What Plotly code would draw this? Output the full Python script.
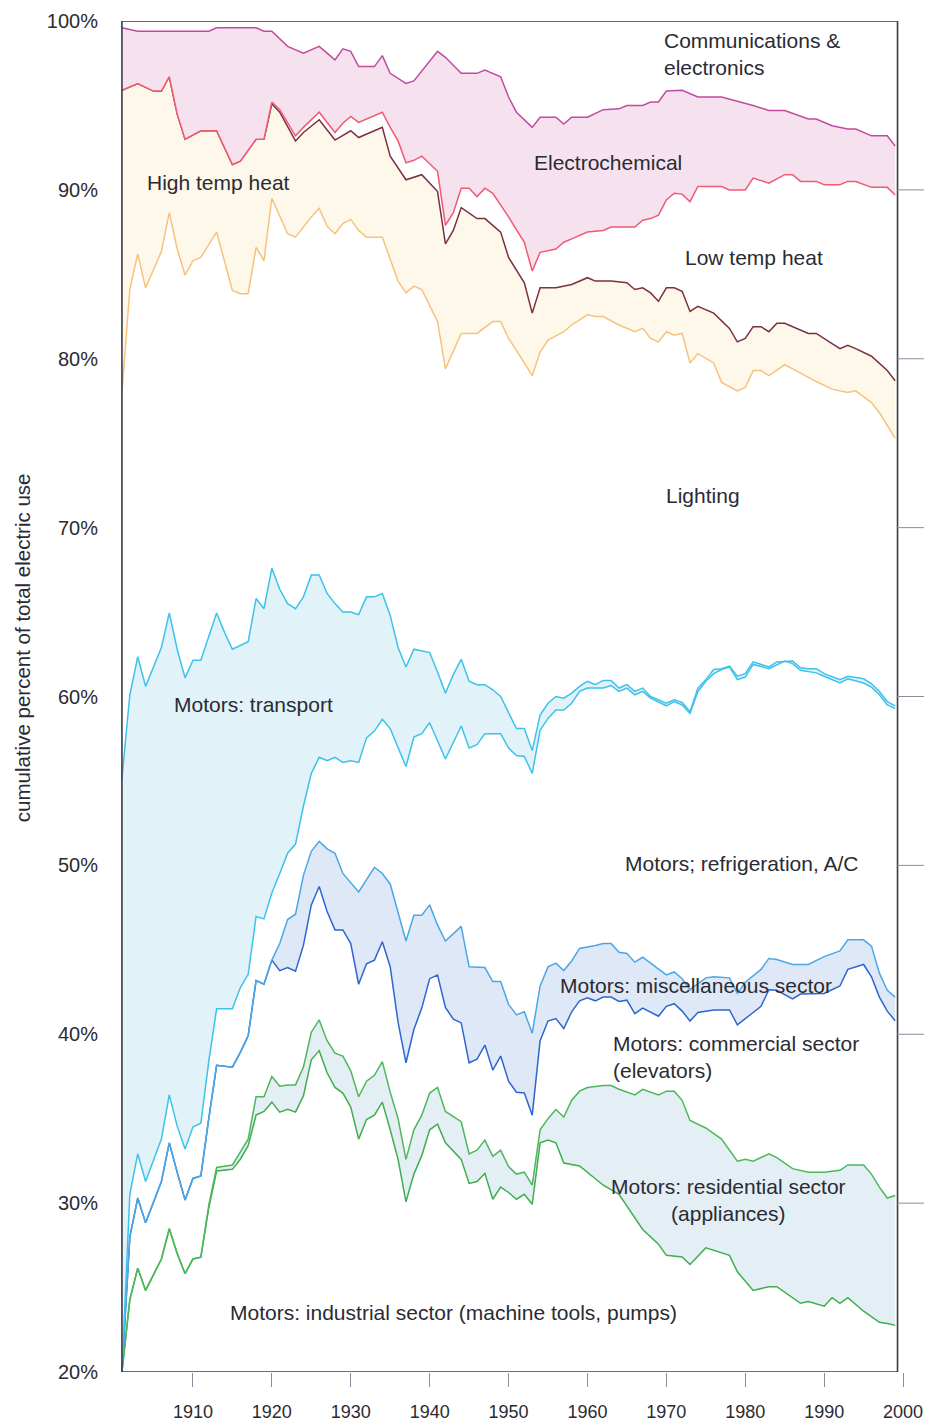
import plotly.graph_objects as go

# cumulative shares (percent of total electric use)
industrial_years = [1901, 1902, 1903, 1904, 1906, 1907, 1908, 1909, 1910, 1911, 1912, 1913, 1915, 1916, 1917,
                    1918, 1919, 1920, 1921, 1922, 1923, 1924, 1925, 1926, 1927, 1928, 1929, 1930, 1931, 1932,
                    1933, 1934, 1935, 1936, 1937, 1938, 1939, 1940, 1941, 1942, 1944, 1945, 1946, 1947, 1948,
                    1949, 1950, 1951, 1952, 1953, 1954, 1955, 1956, 1957, 1959, 1960, 1962, 1964, 1966, 1967,
                    1969, 1970, 1972, 1973, 1975, 1978, 1979, 1981, 1983, 1984, 1987, 1988, 1990, 1991, 1992,
                    1993, 1995, 1997, 1998, 1999]
industrial_top = [20.0, 24.29, 26.15, 24.83, 26.69, 28.48, 27.02, 25.82, 26.69, 26.8, 29.7, 31.9, 32.0, 32.6, 33.4,
                  35.21, 35.43, 35.98, 35.39, 35.55, 35.39, 36.35, 38.49, 39.03, 37.72, 36.85, 36.52, 35.69, 33.79, 34.95,
                  35.21, 35.98, 34.34, 32.59, 30.08, 31.72, 32.81, 34.34, 34.67, 33.57, 32.59, 31.17, 31.28, 31.76, 30.23,
                  30.95, 30.63, 30.23, 30.52, 29.93, 33.57, 33.73, 33.57, 32.37, 32.2, 31.83, 31.06, 30.52, 29.1, 28.44,
                  27.57, 26.91, 26.81, 26.37, 27.35, 26.91, 25.93, 24.83, 25.05, 25.05, 24.07, 24.18, 23.9, 24.4, 24.07,
                  24.4, 23.6, 22.94, 22.87, 22.76]

residential_years = [1901, 1902, 1903, 1904, 1906, 1907, 1908, 1909, 1910, 1911, 1912, 1913, 1915, 1916, 1917,
                     1918, 1919, 1920, 1921, 1922, 1923, 1924, 1925, 1926, 1927, 1928, 1929, 1930, 1931, 1932,
                     1933, 1934, 1935, 1936, 1937, 1938, 1939, 1940, 1941, 1942, 1944, 1945, 1946, 1947, 1948,
                     1949, 1950, 1951, 1952, 1953, 1954, 1955, 1956, 1957, 1958, 1959, 1960, 1962, 1963, 1964,
                     1966, 1967, 1969, 1970, 1971, 1972, 1973, 1975, 1977, 1979, 1980, 1981, 1983, 1984, 1986,
                     1988, 1990, 1992, 1993, 1995, 1996, 1997, 1998, 1999]
residential_top = [20.0, 24.29, 26.15, 24.83, 26.69, 28.48, 27.02, 25.82, 26.69, 26.8, 29.86, 32.11, 32.26, 32.99, 33.79,
                   36.3, 36.3, 37.5, 36.92, 37.0, 37.0, 38.05, 40.12, 40.85, 39.62, 38.88, 38.71, 37.83, 36.3, 37.22,
                   37.57, 38.38, 36.57, 35.0, 32.59, 34.34, 35.21, 36.52, 36.85, 35.43, 34.82, 32.92, 33.14, 33.73, 32.77,
                   33.14, 32.16, 31.72, 31.83, 31.06, 34.34, 35.0, 35.54, 35.1, 36.09, 36.63, 36.85, 36.96, 36.96, 36.74,
                   36.41, 36.74, 36.41, 36.63, 36.63, 36.09, 34.89, 34.45, 33.79, 32.48, 32.59, 32.48, 32.92, 32.7, 32.04,
                   31.83, 31.83, 31.94, 32.26, 32.26, 31.72, 30.95, 30.3, 30.45]

commercial_years = [1901, 1902, 1903, 1904, 1906, 1907, 1908, 1909, 1910, 1911, 1912, 1913, 1915, 1916, 1917,
                    1918, 1919, 1920, 1921, 1922, 1923, 1924, 1925, 1926, 1927, 1928, 1929, 1930, 1931, 1932,
                    1933, 1934, 1935, 1936, 1937, 1938, 1939, 1940, 1941, 1942, 1943, 1944, 1945, 1946, 1947,
                    1948, 1949, 1950, 1951, 1952, 1953, 1954, 1955, 1956, 1957, 1958, 1959, 1960, 1961, 1962,
                    1963, 1964, 1965, 1966, 1967, 1968, 1969, 1970, 1971, 1972, 1973, 1974, 1976, 1978, 1979,
                    1981, 1982, 1983, 1984, 1986, 1987, 1990, 1992, 1993, 1995, 1996, 1997, 1998, 1999]
commercial_top = [20.0, 28.0, 30.3, 28.84, 31.28, 33.57, 31.83, 30.19, 31.46, 31.61, 34.99, 38.16, 38.05, 38.93, 39.91,
                  43.18, 42.96, 44.39, 43.77, 43.95, 43.73, 45.26, 47.66, 48.75, 47.27, 46.18, 46.18, 45.37, 42.96, 44.17,
                  44.39, 45.48, 44.0, 40.7, 38.31, 40.28, 41.55, 43.29, 43.51, 41.59, 40.89, 40.67, 38.31, 38.53, 39.36,
                  37.88, 38.71, 37.22, 36.57, 36.52, 35.21, 39.62, 40.78, 40.93, 40.34, 41.33, 41.98, 42.16, 41.98, 42.2,
                  42.2, 41.94, 42.02, 41.22, 41.55, 41.33, 41.07, 41.65, 41.81, 41.37, 40.78, 41.29, 41.44, 41.44, 40.56,
                  41.29, 41.65, 42.64, 42.6, 42.09, 42.38, 42.42, 42.86, 43.84, 44.13, 43.4, 42.2, 41.37, 40.8]

misc_years = [1901, 1902, 1903, 1904, 1906, 1907, 1908, 1909, 1910, 1911, 1912, 1913, 1915, 1916, 1917,
              1918, 1919, 1920, 1921, 1922, 1923, 1924, 1925, 1926, 1927, 1928, 1929, 1931, 1933, 1934,
              1935, 1936, 1937, 1938, 1939, 1940, 1941, 1942, 1944, 1945, 1946, 1947, 1948, 1949, 1950,
              1951, 1952, 1953, 1954, 1955, 1956, 1957, 1958, 1959, 1961, 1962, 1963, 1964, 1965, 1966,
              1967, 1968, 1970, 1971, 1972, 1973, 1975, 1976, 1978, 1979, 1980, 1982, 1983, 1984, 1986,
              1988, 1990, 1992, 1993, 1995, 1996, 1997, 1998, 1999]
misc_top = [20.0, 28.0, 30.3, 28.84, 31.28, 33.57, 31.83, 30.19, 31.46, 31.61, 34.99, 38.16, 38.05, 38.93, 39.91,
            43.18, 42.96, 44.39, 45.37, 46.79, 47.11, 49.41, 50.83, 51.42, 50.98, 50.72, 49.52, 48.43, 49.89, 49.52,
            48.9, 47.2, 45.52, 47.05, 47.05, 47.66, 46.46, 45.52, 46.39, 43.99, 43.99, 43.95, 43.12, 43.12, 41.77,
            41.15, 41.33, 40.06, 42.86, 43.99, 44.21, 43.77, 44.34, 45.08, 45.26, 45.37, 45.37, 44.86, 44.78, 44.27,
            44.56, 44.2, 43.51, 43.69, 43.29, 42.64, 43.34, 43.4, 43.34, 42.42, 43.08, 43.84, 44.49, 44.43, 44.13,
            44.13, 44.6, 44.93, 45.59, 45.59, 45.22, 43.62, 42.6, 42.2]

refrig_years = [1901, 1902, 1903, 1904, 1906, 1907, 1908, 1909, 1910, 1911, 1912, 1913, 1915, 1916, 1917,
                1918, 1919, 1920, 1921, 1922, 1923, 1924, 1925, 1926, 1927, 1928, 1929, 1930, 1931, 1932,
                1933, 1934, 1935, 1937, 1938, 1939, 1940, 1941, 1942, 1944, 1945, 1946, 1947, 1949, 1950,
                1951, 1952, 1953, 1954, 1955, 1956, 1957, 1958, 1959, 1960, 1962, 1963, 1964, 1965, 1966,
                1967, 1968, 1970, 1971, 1972, 1973, 1974, 1975, 1976, 1977, 1978, 1979, 1980, 1981, 1983,
                1985, 1986, 1987, 1989, 1990, 1992, 1993, 1995, 1996, 1997, 1998, 1999]
refrig_top = [20.0, 30.52, 32.92, 31.28, 33.79, 36.41, 34.56, 33.2, 34.51, 34.73, 38.38, 41.51, 41.51, 42.75, 43.55,
              46.97, 46.83, 48.36, 49.52, 50.72, 51.26, 53.5, 55.45, 56.4, 56.2, 56.4, 56.1, 56.2, 56.1, 57.55,
              57.95, 58.65, 58.1, 55.85, 57.6, 57.8, 58.45, 57.4, 56.3, 58.25, 56.95, 57.15, 57.8, 57.8, 56.95,
              56.5, 56.45, 55.45, 58.0, 58.7, 59.2, 59.2, 59.6, 60.3, 60.5, 60.5, 60.65, 60.3, 60.5, 60.1,
              60.3, 59.9, 59.45, 59.7, 59.5, 59.0, 60.3, 60.9, 61.35, 61.6, 61.75, 61.0, 61.15, 61.9, 61.65,
              62.1, 61.95, 61.55, 61.4, 61.2, 60.8, 61.05, 60.8, 60.55, 60.1, 59.5, 59.3]

transport_years = [1901, 1902, 1903, 1904, 1906, 1907, 1908, 1909, 1910, 1911, 1913, 1914, 1915, 1917, 1918,
                   1919, 1920, 1921, 1922, 1923, 1924, 1925, 1926, 1927, 1928, 1929, 1930, 1931, 1932, 1933,
                   1934, 1935, 1936, 1937, 1938, 1939, 1940, 1941, 1942, 1943, 1944, 1945, 1946, 1947, 1948,
                   1949, 1950, 1951, 1952, 1953, 1954, 1955, 1956, 1957, 1958, 1959, 1960, 1961, 1962, 1963,
                   1964, 1965, 1966, 1967, 1968, 1969, 1970, 1971, 1972, 1973, 1974, 1975, 1976, 1977, 1978,
                   1979, 1980, 1981, 1983, 1984, 1986, 1987, 1988, 1989, 1990, 1992, 1993, 1995, 1996, 1997,
                   1998, 1999]
transport_top = [55.15, 60.1, 62.35, 60.6, 62.9, 64.95, 62.8, 61.1, 62.15, 62.15, 64.95, 63.8, 62.8, 63.25, 65.8,
                 65.2, 67.6, 66.35, 65.5, 65.2, 65.9, 67.2, 67.2, 66.1, 65.5, 65.0, 65.0, 64.85, 65.9, 65.9,
                 66.1, 64.8, 62.9, 61.75, 62.8, 62.7, 62.6, 61.45, 60.2, 61.3, 62.2, 60.9, 60.7, 60.7, 60.4,
                 60.0, 59.0, 58.1, 58.1, 56.8, 58.9, 59.6, 60.0, 59.9, 60.2, 60.6, 60.9, 60.7, 60.95, 60.95,
                 60.5, 60.7, 60.3, 60.5, 60.0, 59.8, 59.6, 59.8, 59.65, 59.1, 60.5, 61.0, 61.6, 61.65, 61.8,
                 61.2, 61.35, 62.05, 61.75, 62.05, 62.1, 61.7, 61.65, 61.65, 61.35, 61.0, 61.2, 61.05, 60.75, 60.3,
                 59.7, 59.45]

lighting_years = [1901, 1902, 1903, 1904, 1906, 1907, 1908, 1909, 1910, 1911, 1913, 1915, 1916, 1917, 1918,
                  1919, 1920, 1921, 1922, 1923, 1925, 1926, 1927, 1928, 1929, 1930, 1931, 1932, 1934, 1936,
                  1937, 1938, 1939, 1941, 1942, 1944, 1946, 1948, 1949, 1950, 1951, 1953, 1954, 1955, 1957,
                  1958, 1960, 1961, 1962, 1964, 1966, 1967, 1968, 1969, 1970, 1971, 1972, 1973, 1974, 1976,
                  1977, 1979, 1980, 1981, 1982, 1983, 1985, 1986, 1989, 1991, 1993, 1994, 1996, 1997, 1999]
lighting_top = [78.0, 84.1, 86.2, 84.2, 86.35, 88.65, 86.5, 84.95, 85.8, 86.0, 87.5, 84.05, 83.85, 83.85, 86.6,
                85.8, 89.5, 88.4, 87.4, 87.2, 88.4, 88.9, 87.85, 87.4, 88.0, 88.25, 87.6, 87.2, 87.2, 84.6,
                83.9, 84.3, 84.1, 82.2, 79.4, 81.5, 81.5, 82.2, 82.2, 81.2, 80.5, 79.0, 80.4, 81.1, 81.6,
                82.0, 82.6, 82.5, 82.5, 82.0, 81.6, 81.8, 81.2, 81.0, 81.6, 81.4, 81.5, 79.75, 80.3, 79.75,
                78.6, 78.1, 78.3, 79.3, 79.3, 79.0, 79.65, 79.4, 78.65, 78.2, 78.0, 78.1, 77.4, 76.8, 75.3]

high_heat_years = [1901, 1903, 1905, 1906, 1907, 1908, 1909, 1911, 1913, 1914, 1915, 1916, 1918, 1919, 1920,
                   1921, 1923, 1924, 1926, 1928, 1930, 1931, 1934, 1935, 1937, 1939, 1941, 1942, 1943, 1944,
                   1946, 1947, 1949, 1950, 1952, 1953, 1954, 1956, 1958, 1960, 1961, 1963, 1965, 1966, 1967,
                   1968, 1969, 1970, 1971, 1972, 1973, 1974, 1976, 1978, 1979, 1980, 1981, 1982, 1983, 1984,
                   1985, 1988, 1989, 1991, 1992, 1993, 1994, 1996, 1998, 1999]
high_heat_top = [95.9, 96.3, 95.85, 95.85, 96.7, 94.5, 93.0, 93.5, 93.5, 92.55, 91.5, 91.7, 93.0, 93.0, 95.1,
                 94.6, 92.9, 93.4, 94.15, 92.95, 93.5, 93.1, 93.7, 92.0, 90.6, 90.9, 89.9, 86.8, 87.6, 88.95,
                 88.3, 88.3, 87.5, 86.0, 84.5, 82.7, 84.2, 84.2, 84.4, 84.8, 84.6, 84.6, 84.5, 84.1, 84.2,
                 83.9, 83.4, 84.2, 84.2, 84.0, 82.8, 83.1, 82.7, 81.8, 81.0, 81.2, 81.9, 81.9, 81.6, 82.1,
                 82.1, 81.5, 81.5, 80.9, 80.6, 80.8, 80.6, 80.15, 79.3, 78.7]

low_heat_years = [1901, 1903, 1905, 1906, 1907, 1908, 1909, 1911, 1913, 1914, 1915, 1916, 1918, 1919, 1920,
                  1921, 1923, 1924, 1926, 1928, 1929, 1930, 1931, 1934, 1935, 1936, 1937, 1938, 1939, 1941,
                  1942, 1943, 1944, 1945, 1946, 1947, 1948, 1950, 1952, 1953, 1954, 1956, 1957, 1958, 1960,
                  1962, 1963, 1965, 1966, 1967, 1968, 1969, 1970, 1971, 1972, 1973, 1974, 1977, 1978, 1980,
                  1981, 1983, 1985, 1986, 1987, 1989, 1990, 1992, 1993, 1994, 1996, 1998, 1999]
low_heat_top = [95.9, 96.3, 95.85, 95.85, 96.7, 94.5, 93.0, 93.5, 93.5, 92.55, 91.5, 91.7, 93.0, 93.0, 95.2,
                94.75, 93.2, 93.7, 94.6, 93.4, 93.95, 94.35, 94.0, 94.6, 93.7, 92.9, 91.6, 91.75, 92.0, 91.1,
                87.9, 88.65, 90.1, 90.1, 89.6, 90.1, 89.8, 88.4, 86.9, 85.2, 86.3, 86.5, 86.9, 87.1, 87.5,
                87.6, 87.8, 87.8, 87.8, 88.2, 88.3, 88.5, 89.4, 89.8, 89.75, 89.3, 90.2, 90.2, 90.0, 90.0,
                90.7, 90.4, 90.9, 90.9, 90.5, 90.5, 90.3, 90.3, 90.5, 90.5, 90.15, 90.15, 89.7]

electrochem_years = [1901, 1903, 1912, 1913, 1918, 1919, 1920, 1922, 1924, 1926, 1928, 1929, 1930, 1931, 1933,
                     1934, 1935, 1937, 1938, 1941, 1942, 1944, 1946, 1947, 1949, 1950, 1951, 1953, 1954, 1956,
                     1957, 1958, 1960, 1962, 1964, 1965, 1967, 1968, 1969, 1970, 1972, 1974, 1977, 1981, 1983,
                     1985, 1988, 1989, 1991, 1993, 1994, 1996, 1998, 1999]
electrochem_top = [99.6, 99.4, 99.4, 99.6, 99.6, 99.4, 99.4, 98.5, 98.1, 98.5, 97.7, 98.35, 98.2, 97.3, 97.3,
                   97.95, 96.9, 96.3, 96.45, 98.2, 97.85, 96.9, 96.9, 97.1, 96.7, 95.5, 94.6, 93.7, 94.3, 94.3,
                   93.9, 94.3, 94.3, 94.75, 94.8, 95.0, 95.0, 95.2, 95.2, 95.85, 95.9, 95.5, 95.5, 95.0, 94.7,
                   94.7, 94.2, 94.2, 93.8, 93.6, 93.6, 93.2, 93.2, 92.6]

tick_years = [1910, 1920, 1930, 1940, 1950, 1960, 1970, 1980, 1990, 2000]
tick_pcts = [20, 30, 40, 50, 60, 70, 80, 90, 100]

# lines drawn bottom to top; a fill colour shades the band down to the line before it
layers = [
    (industrial_years, industrial_top, '#3fae4e', None),
    (residential_years, residential_top, '#4cb85a', '#e4eef5'),
    (commercial_years, commercial_top, '#2d66cf', None),
    (misc_years, misc_top, '#4aa7e6', '#dfe8f6'),
    (refrig_years, refrig_top, '#3dc2ea', None),
    (transport_years, transport_top, '#3dc2ea', '#e1f2f9'),
    (lighting_years, lighting_top, '#f7c27c', None),
    (high_heat_years, high_heat_top, '#7c2f42', '#fdf8e9'),
    (low_heat_years, low_heat_top, '#f05a72', None),
    (electrochem_years, electrochem_top, '#c24aa0', '#f6e2ee'),
]

fig = go.Figure()
for years, vals, color, fillcolor in layers:
    assert len(years) == len(vals)
    fig.add_trace(go.Scatter(
        x=years,
        y=vals,
        mode='lines',
        line=dict(color=color, width=1.5),
        fill='tonexty' if fillcolor else 'none',
        fillcolor=fillcolor,
        hoverinfo='skip',
        showlegend=False
    ))

labels = [
    ('Communications &<br>electronics', 1969.45, 98.05, 'left', 'left'),
    ('Electrochemical', 1962.6, 91.6, 'center', 'center'),
    ('High temp heat', 1913.3, 90.44, 'center', 'center'),
    ('Low temp heat', 1981.1, 86.0, 'center', 'center'),
    ('Lighting', 1974.6, 71.9, 'center', 'center'),
    ('Motors: transport', 1917.7, 59.5, 'center', 'center'),
    ('Motors; refrigeration, A/C', 1979.5, 50.1, 'center', 'center'),
    ('Motors: miscellaneous sector', 1973.7, 42.9, 'center', 'center'),
    ('Motors: commercial sector<br>(elevators)', 1963.0, 38.67, 'left', 'left'),
    ('Motors: residential sector<br>(appliances)', 1977.9, 30.2, 'center', 'center'),
    ('Motors: industrial sector (machine tools, pumps)', 1943.0, 23.5, 'center', 'center'),
]
for text, x, y, anchor, align in labels:
    fig.add_annotation(
        x=x, y=y, xref='x', yref='y',
        text=text, showarrow=False,
        xanchor=anchor, yanchor='middle', align=align,
        font=dict(size=21, color='#2b2b33')
    )

fig.add_annotation(
    x=-0.1217, y=0.5365, xref='paper', yref='paper',
    text='cumulative percent of total electric use',
    textangle=-90, showarrow=False,
    xanchor='center', yanchor='middle',
    font=dict(size=20.5, color='#2b2b33')
)

# plot frame
fig.add_shape(
    type='rect', xref='x', yref='y',
    x0=1901, x1=1999.3, y0=20, y1=100,
    line=dict(color='#3b3b4a', width=1.6),
    fillcolor='rgba(0,0,0,0)', layer='above'
)

# unlabelled ticks on the right-hand side
for v in tick_pcts[1:-1]:
    yp = (v - 20) / 80
    fig.add_shape(
        type='line', xref='paper', yref='paper',
        x0=0.987, x1=1.023, y0=yp, y1=yp,
        line=dict(color='#8c8c9c', width=1)
    )

fig.update_layout(
    width=932,
    height=1425,
    margin=dict(l=110, r=33, t=13, b=61, autoexpand=False),
    plot_bgcolor='white',
    paper_bgcolor='white',
    font=dict(family='Liberation Sans, Arial, sans-serif', size=18, color='#2b2b33'),
    xaxis=dict(
        range=[1900.5, 2000.5],
        tickmode='array',
        tickvals=tick_years,
        ticktext=[str(y) for y in tick_years],
        ticks='outside',
        ticklen=14,
        tickwidth=1,
        tickcolor='#8c8c9c',
        tickfont=dict(size=18),
        ticklabelstandoff=9,
        ticklabeloverflow='allow',
        automargin=False,
        showgrid=False,
        showline=False,
        zeroline=False
    ),
    yaxis=dict(
        range=[20, 100],
        tickmode='array',
        tickvals=tick_pcts,
        ticktext=[f'{v}%' for v in tick_pcts],
        ticks='',
        tickfont=dict(size=20),
        ticklabelstandoff=19,
        ticklabeloverflow='allow',
        automargin=False,
        showgrid=False,
        showline=False,
        zeroline=False
    )
)

fig.write_html('out.html')
